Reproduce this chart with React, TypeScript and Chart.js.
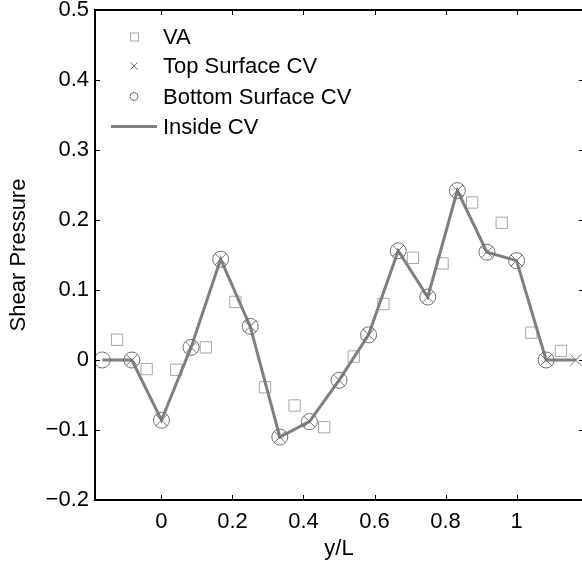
import React, { useEffect, useRef } from "react";
import { Chart, registerables } from "chart.js";

Chart.register(...registerables);

// ---- data ----
const vaX = [-0.125, -0.0417, 0.0417, 0.125, 0.2083, 0.2917, 0.375, 0.4583, 0.5417, 0.625, 0.7083, 0.7917, 0.875, 0.9583, 1.0417, 1.125];
const vaY = [0.029, -0.013, -0.014, 0.018, 0.083, -0.039, -0.065, -0.096, 0.005, 0.080, 0.146, 0.138, 0.225, 0.196, 0.039, 0.013];

const topX = [-0.0833, 0, 0.0833, 0.1667, 0.25, 0.3333, 0.4167, 0.5, 0.5833, 0.6667, 0.75, 0.8333, 0.9167, 1.0, 1.0833, 1.1667];
const topY = [0, -0.086, 0.018, 0.144, 0.048, -0.110, -0.088, -0.029, 0.036, 0.156, 0.090, 0.242, 0.154, 0.142, 0, 0];

const bottomX = [-0.1667, -0.0833, 0, 0.0833, 0.1667, 0.25, 0.3333, 0.4167, 0.5, 0.5833, 0.6667, 0.75, 0.8333, 0.9167, 1.0, 1.0833];
const bottomY = [0, 0, -0.086, 0.018, 0.144, 0.048, -0.110, -0.088, -0.029, 0.036, 0.156, 0.090, 0.242, 0.154, 0.142, 0];

const insideX = [-0.1667, -0.0833, 0, 0.0833, 0.1667, 0.25, 0.3333, 0.4167, 0.5, 0.5833, 0.6667, 0.75, 0.8333, 0.9167, 1.0, 1.0833, 1.1667];
const insideY = [0, 0, -0.086, 0.018, 0.144, 0.048, -0.110, -0.088, -0.029, 0.036, 0.156, 0.090, 0.242, 0.154, 0.142, 0, 0];

const xTicks = [0, 0.2, 0.4, 0.6, 0.8, 1];
const xTickLabels = ["0", "0.2", "0.4", "0.6", "0.8", "1"];
const yTicks = [-0.2, -0.1, 0, 0.1, 0.2, 0.3, 0.4, 0.5];
const yTickLabels = ["\u22120.2", "\u22120.1", "0", "0.1", "0.2", "0.3", "0.4", "0.5"];

const legendLabels = ["VA", "Top Surface CV", "Bottom Surface CV", "Inside CV"];
const xTitle = "y/L";
const yTitle = "Shear Pressure";

const FONT = "'Liberation Sans', Arial, Helvetica, sans-serif";
const SQUARE_COLOR = "#a6a6a6";
const MARK_COLOR = "#6e6e6e";
const LINE_COLOR = "#7f7f7f";

const toPts = (xs: number[], ys: number[]) => xs.map((x, i) => ({ x, y: ys[i] }));

const framePlugin = {
  id: "frameAndLegend",
  afterDraw(chart: any) {
    const { ctx, chartArea } = chart;
    const { left, right, top, bottom } = chartArea;
    const xs = chart.scales.x;
    const ys = chart.scales.y;
    ctx.save();
    // frame
    ctx.strokeStyle = "#000";
    ctx.lineWidth = 2;
    ctx.strokeRect(left + 1, top, right - left, bottom - top);
    // inward ticks
    ctx.lineWidth = 1;
    const tl = 5;
    ctx.beginPath();
    xTicks.forEach((v) => {
      const px = Math.round(xs.getPixelForValue(v)) + 0.5;
      ctx.moveTo(px, bottom);
      ctx.lineTo(px, bottom - tl);
      ctx.moveTo(px, top);
      ctx.lineTo(px, top + tl);
    });
    yTicks.forEach((v) => {
      const py = Math.round(ys.getPixelForValue(v)) + 0.5;
      ctx.moveTo(left, py);
      ctx.lineTo(left + tl + 1, py);
      ctx.moveTo(right, py);
      ctx.lineTo(right - tl, py);
    });
    ctx.stroke();

    // legend
    const mx = 134;
    const rows = [36.5, 66, 96.5, 126.5];
    const textX = 163;
    ctx.font = `22px ${FONT}`;
    ctx.fillStyle = "#000";
    ctx.textBaseline = "middle";
    ctx.textAlign = "left";
    legendLabels.forEach((lab, i) => {
      ctx.fillText(lab, textX, rows[i] + 1);
    });
    // markers
    ctx.lineWidth = 1;
    ctx.strokeStyle = SQUARE_COLOR;
    ctx.strokeRect(mx - 3.5, rows[0] - 3.5, 8, 8);
    ctx.strokeStyle = MARK_COLOR;
    ctx.beginPath();
    ctx.moveTo(mx - 3.5, rows[1] - 3.5);
    ctx.lineTo(mx + 3.5, rows[1] + 3.5);
    ctx.moveTo(mx + 3.5, rows[1] - 3.5);
    ctx.lineTo(mx - 3.5, rows[1] + 3.5);
    ctx.stroke();
    ctx.beginPath();
    ctx.arc(mx, rows[2], 4, 0, Math.PI * 2);
    ctx.stroke();
    ctx.strokeStyle = LINE_COLOR;
    ctx.lineWidth = 3;
    ctx.beginPath();
    ctx.moveTo(111, rows[3]);
    ctx.lineTo(157, rows[3]);
    ctx.stroke();
    ctx.restore();
  },
};

export default function App() {
  const ref = useRef<HTMLCanvasElement | null>(null);
  useEffect(() => {
    if (!ref.current) return;
    const chart = new Chart(ref.current, {
      type: "scatter",
      data: {
        datasets: [
          {
            label: legendLabels[0],
            data: toPts(vaX, vaY),
            pointStyle: "rect",
            pointRadius: 8,
            pointBorderWidth: 1,
            pointBorderColor: SQUARE_COLOR,
            pointBackgroundColor: "rgba(0,0,0,0)",
            showLine: false,
            order: 4,
          },
          {
            label: legendLabels[3],
            data: toPts(insideX, insideY),
            showLine: true,
            borderColor: LINE_COLOR,
            borderWidth: 3,
            pointRadius: 0,
            tension: 0,
            order: 3,
          },
          {
            label: legendLabels[2],
            data: toPts(bottomX, bottomY),
            pointStyle: "circle",
            pointRadius: 8,
            pointBorderWidth: 1,
            pointBorderColor: MARK_COLOR,
            pointBackgroundColor: "rgba(0,0,0,0)",
            showLine: false,
            order: 2,
          },
          {
            label: legendLabels[1],
            data: toPts(topX, topY),
            pointStyle: "crossRot",
            pointRadius: 8,
            pointBorderWidth: 1,
            pointBorderColor: MARK_COLOR,
            pointBackgroundColor: "rgba(0,0,0,0)",
            showLine: false,
            order: 1,
          },
        ],
      },
      options: {
        responsive: false,
        animation: false,
        events: [],
        layout: { padding: { left: 0, top: 10, right: 6, bottom: 0 } },
        plugins: {
          legend: { display: false },
          tooltip: { enabled: false },
        },
        scales: {
          x: {
            type: "linear",
            min: -0.19,
            max: 1.19,
            grid: { display: false, drawTicks: false },
            border: { display: false },
            afterBuildTicks: (axis: any) => {
              axis.ticks = xTicks.map((v) => ({ value: v }));
            },
            afterFit: (axis: any) => {
              axis.height = 65;
              axis.paddingLeft = 0;
              axis.paddingRight = 0;
            },
            ticks: {
              padding: 9,
              color: "#000",
              font: { family: FONT, size: 22 },
              maxRotation: 0,
              autoSkip: false,
              callback: (v: any) => {
                const i = xTicks.findIndex((t) => Math.abs(t - v) < 1e-9);
                return i >= 0 ? xTickLabels[i] : "";
              },
            },
            title: {
              display: true,
              text: xTitle,
              color: "#000",
              font: { family: FONT, size: 22 },
              padding: { top: 0, bottom: 3 },
            },
          },
          y: {
            type: "linear",
            min: -0.2,
            max: 0.5,
            grid: { display: false, drawTicks: false },
            border: { display: false },
            afterBuildTicks: (axis: any) => {
              axis.ticks = yTicks.map((v) => ({ value: v }));
            },
            afterFit: (axis: any) => {
              axis.width = 94;
              axis.paddingTop = 0;
              axis.paddingBottom = 0;
            },
            ticks: {
              padding: 5,
              color: "#000",
              font: { family: FONT, size: 22 },
              autoSkip: false,
              callback: (v: any) => {
                const i = yTicks.findIndex((t) => Math.abs(t - v) < 1e-9);
                return i >= 0 ? yTickLabels[i] : "";
              },
            },
            title: {
              display: true,
              text: yTitle,
              color: "#000",
              font: { family: FONT, size: 22 },
              padding: { top: 6, bottom: 0 },
            },
          },
        },
      },
      plugins: [framePlugin],
    } as any);
    return () => chart.destroy();
  }, []);

  return (
    <div
      style={{
        position: "fixed",
        left: 0,
        top: 0,
        width: 582,
        height: 565,
        overflow: "hidden",
        background: "#fff",
      }}
    >
      <canvas ref={ref} width={593} height={565} style={{ display: "block" }} />
    </div>
  );
}
